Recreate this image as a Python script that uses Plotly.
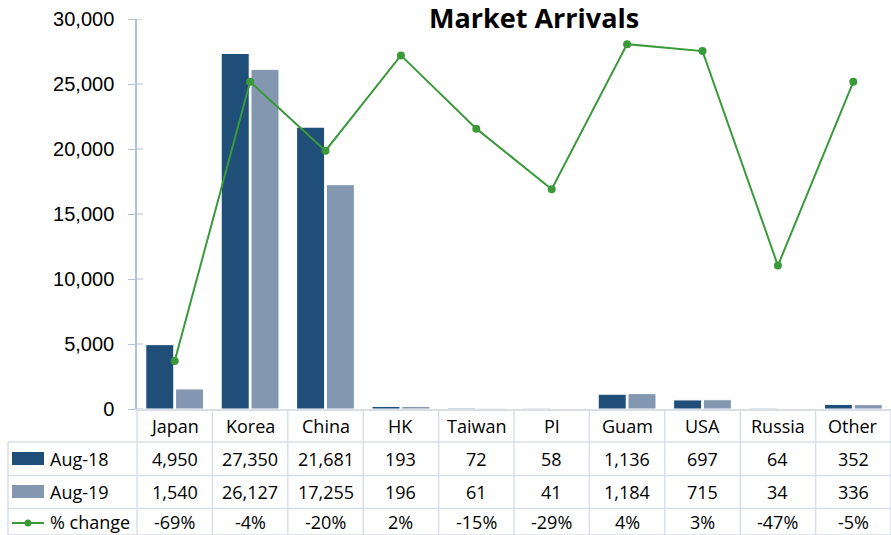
import plotly.graph_objects as go

categories = ["Japan", "Korea", "China", "HK", "Taiwan", "PI", "Guam", "USA", "Russia", "Other"]
aug18 = [4950, 27350, 21681, 193, 72, 58, 1136, 697, 64, 352]
aug19 = [1540, 26127, 17255, 196, 61, 41, 1184, 715, 34, 336]
pct_change = [-68.9, -4.5, -20.4, 1.6, -15.3, -29.3, 4.2, 2.6, -46.9, -4.5]
pct_labels = ["-69%", "-4%", "-20%", "2%", "-15%", "-29%", "4%", "3%", "-47%", "-5%"]
series_names = ["Aug-18", "Aug-19", "% change"]
y_ticks = [0, 5000, 10000, 15000, 20000, 25000, 30000]
title_text = "Market Arrivals"

W, H = 891, 535
L, T, B = 137, 19, 409  # plot area pixel bounds
PW = W - L
PH = B - T

DARK = "#1f4e79"
LIGHT = "#8497b0"
GREEN = "#3a9a3a"
GRID = "#d9dee7"
AXIS = "#b4c0d3"
TFONT = "Open Sans"


def px(p):
    return (p - L) / PW


def py(p):
    return (B - p) / PH


fig = go.Figure()
fig.add_trace(go.Bar(x=categories, y=aug18, name=series_names[0],
                     marker=dict(color=DARK, line=dict(color="white", width=1))))
fig.add_trace(go.Bar(x=categories, y=aug19, name=series_names[1],
                     marker=dict(color=LIGHT, line=dict(color="white", width=1))))
fig.add_trace(go.Scatter(x=categories, y=pct_change, name=series_names[2], yaxis="y2",
                         mode="lines+markers", line=dict(color=GREEN, width=2),
                         marker=dict(color=GREEN, size=8)))

shapes = []
annotations = []

# inner part of y ticks
for v in y_ticks:
    shapes.append(dict(type="line", xref="paper", yref="y", x0=0, x1=px(L + 6), y0=v, y1=v,
                       line=dict(color=AXIS, width=1)))

# table grid
row_lines = [442, 475.5, 508.5, 535]
for r in row_lines:
    shapes.append(dict(type="line", xref="paper", yref="paper", x0=px(8), x1=px(W), y0=py(r), y1=py(r),
                       line=dict(color=GRID, width=1.5)))
shapes.append(dict(type="line", xref="paper", yref="paper", x0=px(8), x1=px(8), y0=py(442), y1=py(535),
                   line=dict(color=GRID, width=1.5)))
shapes.append(dict(type="line", xref="paper", yref="paper", x0=0, x1=0, y0=py(B), y1=py(535),
                   line=dict(color=GRID, width=1.5)))
for i in range(len(categories)):
    shapes.append(dict(type="line", xref="x", yref="paper", x0=i + 0.5, x1=i + 0.5, y0=py(B), y1=py(535),
                       line=dict(color=GRID, width=1.5)))

# legend keys
shapes.append(dict(type="rect", xref="paper", yref="paper", x0=px(12), x1=px(44), y0=py(452), y1=py(465),
                   fillcolor=DARK, line=dict(width=0)))
shapes.append(dict(type="rect", xref="paper", yref="paper", x0=px(12), x1=px(44), y0=py(485), y1=py(498),
                   fillcolor=LIGHT, line=dict(width=0)))
shapes.append(dict(type="line", xref="paper", yref="paper", x0=px(12), x1=px(44), y0=py(523), y1=py(523),
                   line=dict(color=GREEN, width=2)))
shapes.append(dict(type="circle", xref="paper", yref="paper", x0=px(24.5), x1=px(31.5), y0=py(526.5), y1=py(519.5),
                   fillcolor=GREEN, line=dict(width=0)))

row_y = [425.5, 459, 492, 522]
tfont = dict(family=TFONT, size=18, color="black")
for i, c in enumerate(categories):
    annotations.append(dict(x=c, y=py(row_y[0]), xref="x", yref="paper", text=c, showarrow=False,
                            font=tfont, xanchor="center", yanchor="middle"))
    annotations.append(dict(x=c, y=py(row_y[1]), xref="x", yref="paper", text=f"{aug18[i]:,}", showarrow=False,
                            font=tfont, xanchor="center", yanchor="middle"))
    annotations.append(dict(x=c, y=py(row_y[2]), xref="x", yref="paper", text=f"{aug19[i]:,}", showarrow=False,
                            font=tfont, xanchor="center", yanchor="middle"))
    annotations.append(dict(x=c, y=py(row_y[3]), xref="x", yref="paper", text=pct_labels[i], showarrow=False,
                            font=tfont, xanchor="center", yanchor="middle"))

for k, name in enumerate(series_names):
    annotations.append(dict(x=px(48), y=py(row_y[k + 1]), xref="paper", yref="paper", text=name,
                            showarrow=False, font=tfont, xanchor="left", yanchor="middle"))

annotations.append(dict(x=px(534), y=py(17), xref="paper", yref="paper", text="<b>" + title_text + "</b>",
                        showarrow=False, font=dict(family=TFONT, size=27, color="black"),
                        xanchor="center", yanchor="middle"))

fig.update_layout(
    width=W, height=H,
    margin=dict(l=L, r=0, t=T, b=H - B, pad=0),
    paper_bgcolor="white", plot_bgcolor="white",
    barmode="group", bargap=0.21, bargroupgap=0.06,
    showlegend=False,
    xaxis=dict(range=[-0.5, 9.5], showticklabels=False, showline=True, linecolor=GRID, linewidth=1.5,
               showgrid=False, zeroline=False, ticks=""),
    yaxis=dict(range=[0, 30000], tickvals=y_ticks, tickformat=",", showline=True, linecolor=AXIS, linewidth=1.5,
               ticks="outside", ticklen=7, tickcolor=AXIS, tickwidth=1, showgrid=False, zeroline=False,
               tickfont=dict(family="Liberation Sans", size=20, color="black"), ticklabelstandoff=10),
    yaxis2=dict(range=[-80, 10], overlaying="y", visible=False),
    shapes=shapes,
    annotations=annotations,
)

fig.write_html("out.html", config={"displayModeBar": False},
               post_script="document.body.style.margin='0';document.body.style.overflow='hidden';")
